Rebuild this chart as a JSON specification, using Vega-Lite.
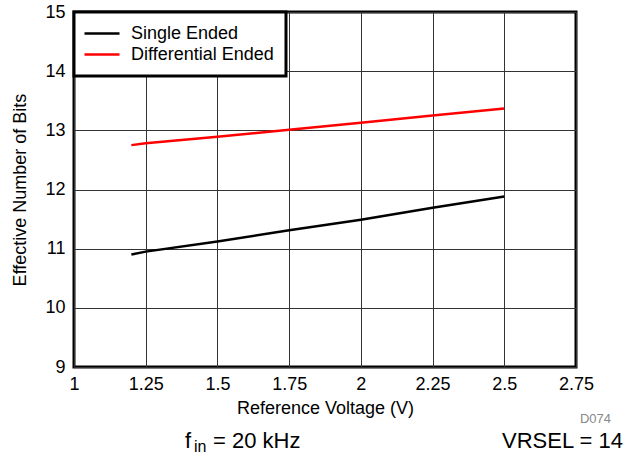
{
  "$schema": "https://vega.github.io/schema/vega-lite/v6.json",
  "autosize": "none",
  "width": 502,
  "height": 355,
  "padding": {"left": 74, "top": 12, "right": 63, "bottom": 92},
  "background": "white",
  "config": {
    "font": "Liberation Sans",
    "view": {"stroke": "black", "strokeWidth": 3},
    "axis": {
      "labelFont": "Liberation Sans",
      "titleFont": "Liberation Sans",
      "labelFontSize": 18,
      "titleFontSize": 18,
      "labelColor": "black",
      "titleColor": "black",
      "titleFontWeight": "normal",
      "ticks": false,
      "domain": false,
      "gridColor": "#333333",
      "gridWidth": 1,
      "gridOpacity": 1
    }
  },
  "datasets": {
    "series": [
      {"v": 1.2, "enob": 10.9, "mode": "Single Ended"},
      {"v": 1.25, "enob": 10.95, "mode": "Single Ended"},
      {"v": 1.5, "enob": 11.12, "mode": "Single Ended"},
      {"v": 1.75, "enob": 11.31, "mode": "Single Ended"},
      {"v": 2.0, "enob": 11.49, "mode": "Single Ended"},
      {"v": 2.25, "enob": 11.69, "mode": "Single Ended"},
      {"v": 2.5, "enob": 11.88, "mode": "Single Ended"},
      {"v": 1.2, "enob": 12.75, "mode": "Differential Ended"},
      {"v": 1.25, "enob": 12.78, "mode": "Differential Ended"},
      {"v": 1.5, "enob": 12.89, "mode": "Differential Ended"},
      {"v": 1.75, "enob": 13.01, "mode": "Differential Ended"},
      {"v": 2.0, "enob": 13.13, "mode": "Differential Ended"},
      {"v": 2.25, "enob": 13.25, "mode": "Differential Ended"},
      {"v": 2.5, "enob": 13.37, "mode": "Differential Ended"}
    ],
    "mainNotes": [
      {"t": "f", "x": 1.387, "y": 7.632},
      {"t": "= 20 kHz", "x": 1.4845, "y": 7.632}
    ],
    "rightNotes": [
      {"t": "VRSEL = 14", "x": 2.9136, "y": 7.632}
    ],
    "subNotes": [
      {"t": "in", "x": 1.418, "y": 7.56}
    ],
    "codeNotes": [
      {"t": "D074", "x": 2.872, "y": 8.054}
    ]
  },
  "layer": [
    {
      "data": {"name": "series"},
      "mark": {"type": "line", "strokeWidth": 2.5},
      "encoding": {
        "x": {
          "field": "v", "type": "quantitative",
          "scale": {"domain": [1, 2.75], "nice": false, "zero": false},
          "axis": {
            "values": [1, 1.25, 1.5, 1.75, 2, 2.25, 2.5, 2.75],
            "format": ".2~f",
            "title": "Reference Voltage (V)",
            "labelPadding": 8,
            "titlePadding": 6,
            "labelFlush": false,
            "labelOverlap": false
          }
        },
        "y": {
          "field": "enob", "type": "quantitative",
          "scale": {"domain": [9, 15], "nice": false, "zero": false},
          "axis": {
            "values": [9, 10, 11, 12, 13, 14, 15],
            "format": "d",
            "title": "Effective Number of Bits",
            "labelPadding": 9,
            "titlePadding": 15,
            "labelFlush": false
          }
        },
        "color": {
          "field": "mode", "type": "nominal",
          "scale": {"domain": ["Single Ended", "Differential Ended"], "range": ["black", "#ff0000"]},
          "legend": {
            "title": null,
            "orient": "none",
            "legendX": 0,
            "legendY": 0,
            "fillColor": "white",
            "strokeColor": "black",
            "padding": 12,
            "symbolType": "M-1.375,0H3.0",
            "symbolSize": 256,
            "symbolStrokeWidth": 2.5,
            "labelFont": "Liberation Sans",
            "labelFontSize": 18,
            "labelColor": "black",
            "labelOffset": 26,
            "rowPadding": 2,
            "labelLimit": 300,
            "encode": {"legend": {"update": {"strokeWidth": {"value": 3}}}}
          }
        }
      }
    },
    {
      "data": {"name": "mainNotes"},
      "mark": {"type": "text", "align": "left", "baseline": "alphabetic", "fontSize": 22, "font": "Liberation Sans", "color": "black", "clip": false},
      "encoding": {
        "x": {"field": "x", "type": "quantitative"},
        "y": {"field": "y", "type": "quantitative"},
        "text": {"field": "t"}
      }
    },
    {
      "data": {"name": "rightNotes"},
      "mark": {"type": "text", "align": "right", "baseline": "alphabetic", "fontSize": 22, "font": "Liberation Sans", "color": "black", "clip": false},
      "encoding": {
        "x": {"field": "x", "type": "quantitative"},
        "y": {"field": "y", "type": "quantitative"},
        "text": {"field": "t"}
      }
    },
    {
      "data": {"name": "subNotes"},
      "mark": {"type": "text", "align": "left", "baseline": "alphabetic", "fontSize": 16, "font": "Liberation Sans", "color": "black", "clip": false},
      "encoding": {
        "x": {"field": "x", "type": "quantitative"},
        "y": {"field": "y", "type": "quantitative"},
        "text": {"field": "t"}
      }
    },
    {
      "data": {"name": "codeNotes"},
      "mark": {"type": "text", "align": "right", "baseline": "alphabetic", "fontSize": 13, "font": "Liberation Sans", "color": "#888888", "clip": false},
      "encoding": {
        "x": {"field": "x", "type": "quantitative"},
        "y": {"field": "y", "type": "quantitative"},
        "text": {"field": "t"}
      }
    }
  ]
}
